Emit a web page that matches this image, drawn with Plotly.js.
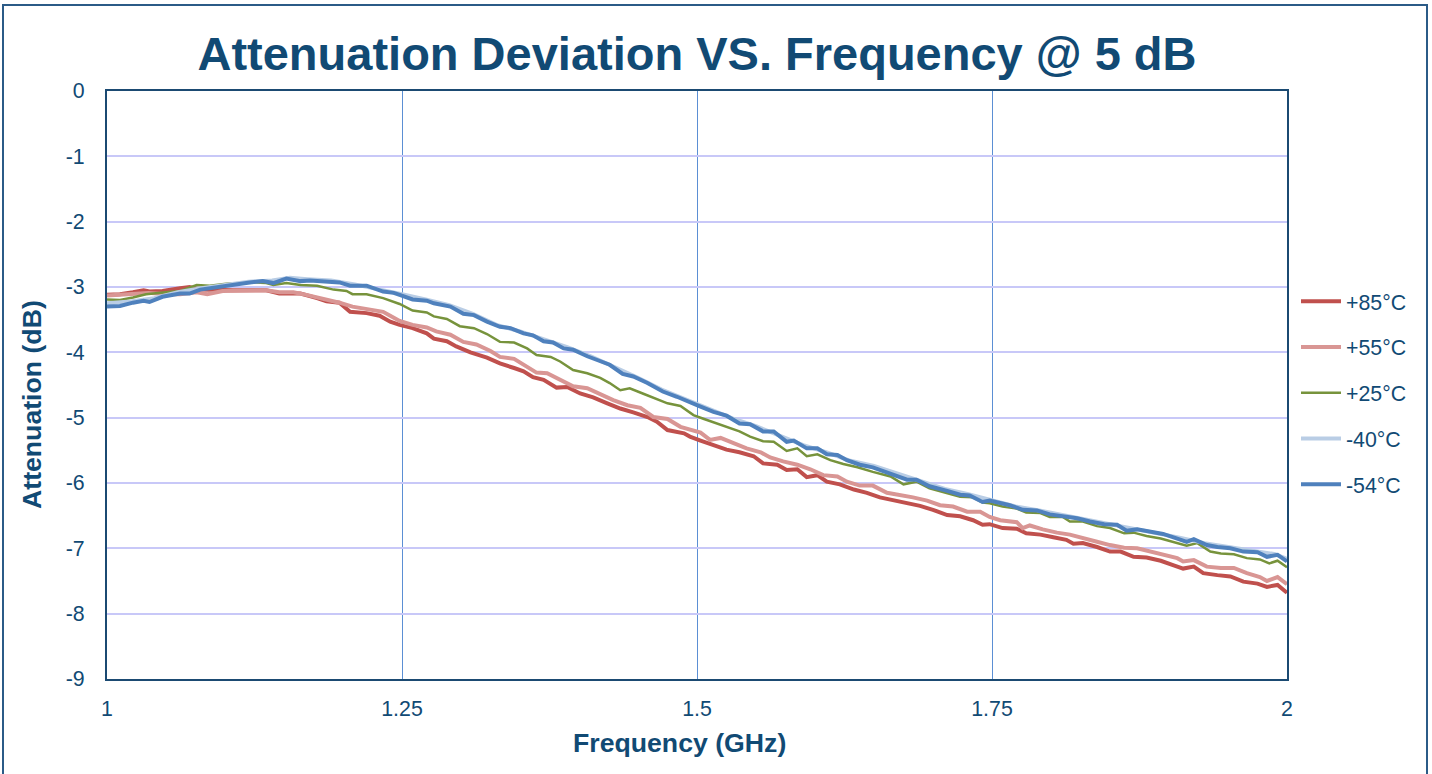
<!DOCTYPE html>
<html><head><meta charset="utf-8">
<script src="https://cdn.plot.ly/plotly-3.0.1.min.js"></script>
<style>html,body{margin:0;padding:0;background:#fff}#chart{width:1432px;height:774px}</style>
</head><body><div id="chart"></div>
<script>
// +85°C
const freq85 = [1.000,1.011,1.022,1.031,1.036,1.047,1.062,1.070,1.079,1.093,1.107,1.121,1.135,1.146,1.164,1.178,1.186,1.197,1.206,1.220,1.231,1.240,1.248,1.259,1.271,1.277,1.288,1.296,1.308,1.322,1.333,1.345,1.353,1.361,1.370,1.381,1.390,1.401,1.412,1.424,1.435,1.446,1.458,1.466,1.475,1.489,1.494,1.503,1.514,1.525,1.536,1.548,1.556,1.568,1.576,1.585,1.593,1.602,1.610,1.621,1.633,1.644,1.655,1.666,1.678,1.689,1.700,1.712,1.723,1.734,1.742,1.748,1.759,1.771,1.779,1.791,1.802,1.813,1.819,1.827,1.839,1.850,1.859,1.870,1.881,1.893,1.904,1.912,1.921,1.929,1.941,1.952,1.963,1.975,1.983,1.992,2.000];
const att85 = [-3.12,-3.11,-3.08,-3.05,-3.07,-3.06,-3.02,-3.00,-3.04,-3.05,-3.05,-3.05,-3.05,-3.10,-3.10,-3.17,-3.22,-3.24,-3.38,-3.40,-3.44,-3.53,-3.58,-3.63,-3.71,-3.79,-3.83,-3.91,-4.00,-4.08,-4.17,-4.24,-4.29,-4.38,-4.42,-4.54,-4.53,-4.63,-4.69,-4.78,-4.86,-4.92,-4.99,-5.06,-5.19,-5.24,-5.29,-5.35,-5.42,-5.49,-5.53,-5.59,-5.70,-5.72,-5.80,-5.79,-5.91,-5.88,-5.98,-6.02,-6.10,-6.15,-6.22,-6.26,-6.31,-6.35,-6.41,-6.49,-6.51,-6.57,-6.64,-6.63,-6.69,-6.70,-6.77,-6.79,-6.83,-6.87,-6.93,-6.92,-6.98,-7.05,-7.05,-7.13,-7.14,-7.19,-7.26,-7.31,-7.28,-7.38,-7.41,-7.43,-7.51,-7.54,-7.59,-7.56,-7.68];

// +55°C
const freq55 = [1.000,1.020,1.035,1.050,1.062,1.076,1.085,1.098,1.113,1.135,1.146,1.158,1.169,1.186,1.197,1.208,1.220,1.234,1.240,1.248,1.259,1.271,1.279,1.291,1.302,1.313,1.325,1.333,1.345,1.353,1.364,1.373,1.384,1.395,1.407,1.418,1.429,1.441,1.452,1.463,1.475,1.486,1.494,1.503,1.511,1.520,1.531,1.542,1.554,1.562,1.573,1.585,1.596,1.607,1.619,1.627,1.638,1.649,1.661,1.672,1.683,1.695,1.706,1.717,1.729,1.740,1.748,1.757,1.771,1.776,1.782,1.793,1.805,1.816,1.827,1.839,1.850,1.862,1.873,1.884,1.895,1.907,1.912,1.921,1.932,1.944,1.955,1.966,1.977,1.983,1.992,2.000];
const att55 = [-3.13,-3.10,-3.09,-3.11,-3.11,-3.08,-3.11,-3.06,-3.05,-3.05,-3.08,-3.08,-3.12,-3.19,-3.24,-3.30,-3.33,-3.38,-3.44,-3.52,-3.58,-3.62,-3.68,-3.73,-3.84,-3.88,-3.98,-4.07,-4.10,-4.19,-4.31,-4.32,-4.42,-4.52,-4.55,-4.64,-4.73,-4.81,-4.85,-4.99,-5.02,-5.14,-5.18,-5.23,-5.34,-5.31,-5.39,-5.47,-5.53,-5.61,-5.67,-5.72,-5.79,-5.88,-5.90,-5.98,-6.04,-6.04,-6.15,-6.18,-6.22,-6.27,-6.34,-6.36,-6.44,-6.44,-6.52,-6.57,-6.60,-6.69,-6.65,-6.71,-6.76,-6.79,-6.85,-6.90,-6.95,-6.99,-7.00,-7.05,-7.10,-7.15,-7.20,-7.18,-7.28,-7.30,-7.30,-7.38,-7.44,-7.50,-7.44,-7.55];

// +25°C
const freq25 = [1.000,1.011,1.022,1.033,1.050,1.062,1.076,1.087,1.101,1.121,1.135,1.141,1.152,1.164,1.178,1.192,1.203,1.208,1.220,1.234,1.248,1.259,1.271,1.277,1.288,1.299,1.311,1.322,1.333,1.345,1.356,1.364,1.376,1.384,1.395,1.407,1.418,1.426,1.435,1.443,1.454,1.466,1.475,1.486,1.497,1.506,1.517,1.528,1.536,1.545,1.556,1.565,1.576,1.585,1.593,1.602,1.613,1.624,1.636,1.649,1.664,1.675,1.686,1.697,1.712,1.723,1.734,1.742,1.748,1.759,1.771,1.779,1.791,1.799,1.810,1.816,1.827,1.839,1.850,1.862,1.870,1.881,1.893,1.904,1.915,1.924,1.935,1.944,1.955,1.966,1.977,1.985,1.992,2.000];
const att25 = [-3.19,-3.20,-3.16,-3.11,-3.08,-3.06,-2.97,-2.98,-2.95,-2.93,-2.94,-2.97,-2.94,-2.97,-2.98,-3.04,-3.06,-3.11,-3.11,-3.17,-3.26,-3.36,-3.39,-3.45,-3.49,-3.60,-3.63,-3.72,-3.84,-3.85,-3.94,-4.04,-4.07,-4.14,-4.27,-4.32,-4.39,-4.47,-4.58,-4.55,-4.63,-4.71,-4.78,-4.82,-4.96,-5.02,-5.09,-5.15,-5.21,-5.29,-5.36,-5.37,-5.51,-5.47,-5.59,-5.56,-5.65,-5.71,-5.76,-5.83,-5.90,-6.02,-5.98,-6.08,-6.16,-6.21,-6.22,-6.30,-6.31,-6.36,-6.39,-6.45,-6.46,-6.52,-6.52,-6.59,-6.59,-6.66,-6.69,-6.77,-6.76,-6.81,-6.85,-6.90,-6.96,-6.92,-7.05,-7.08,-7.09,-7.15,-7.17,-7.23,-7.19,-7.29];

// -40°C
const freqM40 = [1.000,1.020,1.040,1.060,1.080,1.100,1.120,1.140,1.155,1.170,1.190,1.210,1.230,1.250,1.270,1.290,1.310,1.330,1.350,1.370,1.390,1.410,1.430,1.450,1.470,1.490,1.510,1.530,1.550,1.570,1.590,1.610,1.630,1.650,1.670,1.690,1.710,1.730,1.750,1.770,1.790,1.810,1.830,1.850,1.870,1.890,1.910,1.930,1.950,1.970,1.990,2.000];
const attM40 = [-3.25,-3.22,-3.17,-3.08,-3.02,-2.97,-2.92,-2.90,-2.86,-2.88,-2.90,-2.96,-3.03,-3.11,-3.19,-3.28,-3.41,-3.58,-3.68,-3.80,-3.92,-4.06,-4.22,-4.39,-4.57,-4.72,-4.87,-5.01,-5.13,-5.27,-5.42,-5.53,-5.66,-5.74,-5.86,-5.97,-6.09,-6.17,-6.26,-6.36,-6.42,-6.49,-6.56,-6.62,-6.70,-6.76,-6.84,-6.92,-6.98,-7.04,-7.09,-7.16];

// -54°C
const freqM54 = [1.000,1.011,1.022,1.031,1.036,1.047,1.062,1.070,1.079,1.093,1.107,1.121,1.132,1.141,1.152,1.164,1.172,1.186,1.197,1.206,1.220,1.234,1.243,1.248,1.259,1.271,1.277,1.291,1.302,1.311,1.322,1.333,1.342,1.353,1.361,1.370,1.378,1.387,1.395,1.407,1.418,1.426,1.437,1.446,1.458,1.471,1.483,1.494,1.503,1.514,1.525,1.536,1.545,1.556,1.565,1.576,1.582,1.593,1.602,1.610,1.619,1.627,1.638,1.649,1.661,1.669,1.678,1.686,1.697,1.712,1.723,1.731,1.742,1.748,1.757,1.765,1.776,1.788,1.799,1.810,1.822,1.833,1.845,1.856,1.864,1.873,1.884,1.895,1.907,1.915,1.921,1.932,1.941,1.952,1.963,1.975,1.983,1.992,2.000];
const attM54 = [-3.30,-3.29,-3.24,-3.21,-3.23,-3.15,-3.10,-3.10,-3.04,-3.00,-2.97,-2.93,-2.91,-2.94,-2.87,-2.91,-2.90,-2.92,-2.93,-2.98,-2.98,-3.07,-3.09,-3.12,-3.19,-3.21,-3.25,-3.30,-3.41,-3.43,-3.53,-3.61,-3.63,-3.71,-3.74,-3.83,-3.85,-3.94,-3.96,-4.06,-4.14,-4.19,-4.33,-4.37,-4.47,-4.60,-4.68,-4.77,-4.83,-4.91,-4.97,-5.09,-5.10,-5.21,-5.21,-5.37,-5.35,-5.47,-5.47,-5.56,-5.57,-5.65,-5.72,-5.76,-5.84,-5.88,-5.95,-5.95,-6.05,-6.12,-6.18,-6.19,-6.29,-6.27,-6.30,-6.34,-6.41,-6.42,-6.48,-6.51,-6.54,-6.59,-6.63,-6.64,-6.73,-6.71,-6.75,-6.78,-6.85,-6.90,-6.86,-6.95,-6.98,-7.00,-7.05,-7.06,-7.13,-7.10,-7.20];

const seriesNames = ['+85°C','+55°C','+25°C','-40°C','-54°C'];
const xTickVals = [1,1.25,1.5,1.75,2];
const xTickText = ['1','1.25','1.5','1.75','2'];
const yTickVals = [0,-1,-2,-3,-4,-5,-6,-7,-8,-9];
const yTickText = ['0','-1','-2','-3','-4','-5','-6','-7','-8','-9'];

const chartTitle = 'Attenuation Deviation VS. Frequency @ 5 dB';
const xTitle = 'Frequency (GHz)';
const yTitle = 'Attenuation (dB)';

const textColor = '#114A74';
const FONT = 'Liberation Sans, Arial, sans-serif';

const xs = [freq85, freq55, freq25, freqM40, freqM54];
const ys = [att85, att55, att25, attM40, attM54];
const colors = ['#C0504D','#D99694','#77933C','#B9CDE5','#4F81BD'];
const widths = [4, 4, 2.5, 4, 4];

const traces = seriesNames.map((n, i) => ({
  type: 'scatter', mode: 'lines', name: n, x: xs[i], y: ys[i],
  legendgroup: 'g' + i,
  line: {color: colors[i], width: widths[i]}
}));

const L = 107, R = 1287, T = 91, B = 679;
const px2x = p => (p - L) / (R - L);
const py2y = p => (B - p) / (B - T);

const layout = {
  width: 1432, height: 774,
  margin: {l: L, r: 1432 - R, t: T, b: 774 - B},
  paper_bgcolor: '#fff', plot_bgcolor: '#fff',
  font: {family: FONT, color: textColor, size: 21.33},
  title: {text: '<b>' + chartTitle + '</b>', font: {family: FONT, size: 47, color: textColor},
          x: 0.5, xref: 'paper', xanchor: 'center', y: 1 - 54 / 774, yref: 'container', yanchor: 'middle'},
  xaxis: {range: [1, 2], tickvals: xTickVals, ticktext: xTickText,
          showgrid: true, gridcolor: '#5B8FD4', gridwidth: 1,
          showline: true, mirror: true, linecolor: '#1B4A72', linewidth: 2,
          ticks: 'outside', ticklen: 9, tickcolor: 'rgba(0,0,0,0)',
          zeroline: false, tickfont: {size: 21.33, color: textColor}, fixedrange: true},
  yaxis: {range: [-9, 0], tickvals: yTickVals, ticktext: yTickText,
          showgrid: true, gridcolor: '#C8C8F8', gridwidth: 2,
          showline: true, mirror: true, linecolor: '#1B4A72', linewidth: 2,
          ticks: 'outside', ticklen: 16, tickcolor: 'rgba(0,0,0,0)',
          zeroline: false, tickfont: {size: 21.33, color: textColor}, fixedrange: true},
  legend: {x: px2x(1296), xanchor: 'left', y: py2y(281), yanchor: 'top',
           font: {size: 21.33, color: textColor}, tracegroupgap: 15,
           bgcolor: 'rgba(0,0,0,0)', itemwidth: 40},
  annotations: [
    {text: '<b>' + xTitle + '</b>', xref: 'paper', yref: 'paper', x: px2x(679), y: py2y(743),
     xanchor: 'center', yanchor: 'middle', showarrow: false, font: {size: 26.67, color: textColor}},
    {text: '<b>' + yTitle + '</b>', xref: 'paper', yref: 'paper', x: px2x(32), y: py2y(405),
     xanchor: 'center', yanchor: 'middle', textangle: -90, showarrow: false, font: {size: 26.67, color: textColor}}
  ],
  shapes: [
    {type: 'rect', xref: 'paper', yref: 'paper', x0: px2x(3), x1: px2x(1427), y0: py2y(800), y1: py2y(5),
     line: {color: '#2B5B87', width: 2}, fillcolor: 'rgba(0,0,0,0)', layer: 'below'}
  ],
  showlegend: true
};

Plotly.newPlot('chart', traces, layout, {displayModeBar: false, staticPlot: true});
</script>
</body></html>
